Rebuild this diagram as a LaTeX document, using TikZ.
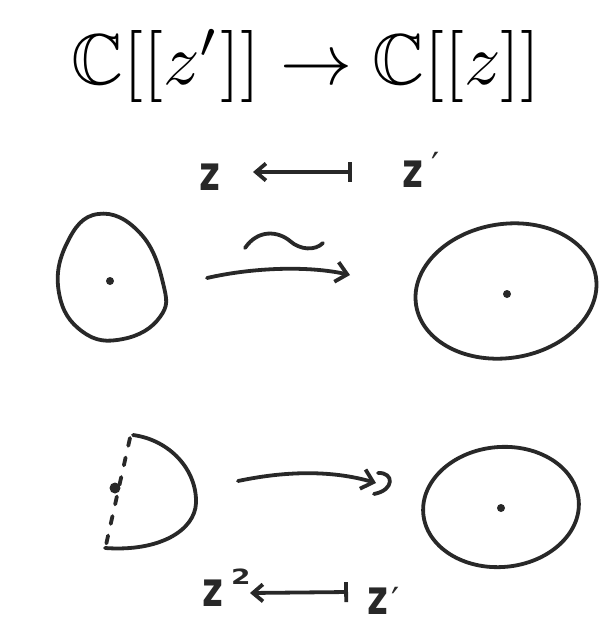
\documentclass[tikz,border=0pt]{standalone}
\usepackage{amssymb}
\usepackage{fontspec}
\newfontfamily\hand{DejaVu Sans}
\usetikzlibrary{arrows.meta}
\definecolor{inkc}{RGB}{40,40,40}
\tikzset{
  ink/.style={draw=inkc, line width=3.8pt, line cap=round, line join=round},
  lbl/.style={font=\hand\bfseries\fontsize{36}{36}\selectfont, text=inkc, inner sep=0pt, anchor=base west},
  dotmark/.style={fill=inkc, draw=none},
  barb/.style={-{Straight Barb[length=11pt,width=20pt,line width=3.8pt]}},
  mapsfrom/.style={{Bar[width=20pt,line width=3.8pt]}-{Straight Barb[length=10pt,width=17pt,line width=3.8pt]}}
}
\newcommand{\hz}{\scalebox{1}[1.35]{z}}
\begin{document}
\begin{tikzpicture}[x=1pt,y=-1pt]
\useasboundingbox[fill=white] (0,0) rectangle (599,625);
% title
\node[anchor=base, inner sep=0pt] (title) at (306,84) {\scalebox{7.2}{$\mathbb{C}[[z']]\to\mathbb{C}[[z]]$}};

% top labels
\node[lbl] (z1) at (199,190) {\hz};
\node[lbl] (zp1) at (402,187) {\hz\kern8pt\raisebox{9pt}{\mdseries′}};
\coordinate (b1) at (352,172);
\coordinate (h1) at (253,172);
\draw[ink, mapsfrom] (b1) -- (h1);

% left egg
\draw[ink] plot[smooth cycle, tension=0.75] coordinates {(98,214) (140,233) (163,283) (160,317) (123,339) (83,332) (59,293) (67,243)};
\fill[dotmark] (110,281) circle (4pt);

% right ellipse
\draw[ink, rotate around={9:(506,291)}] (506,291) ellipse [x radius=91pt, y radius=67pt];
\fill[dotmark] (507,294) circle (4pt);

% iso arrow
\coordinate (a1s) at (207,278);
\coordinate (a1e) at (350,275);
\draw[ink, barb] (a1s) .. controls (255,267) and (310,266) .. (a1e);
\draw[ink] (245,248) .. controls (258,229) and (278,231) .. (290,241) .. controls (300,250) and (315,251) .. (323,243);

% half disc
\draw[ink] (133,435) .. controls (170,440) and (197,470) .. (196,503) .. controls (195,530) and (160,552) .. (105,548);
\draw[ink, dash pattern=on 8pt off 12pt] (130,438) -- (106,545);
\fill[dotmark] (115,488) circle (5.5pt);

% right bottom circle
\draw[ink, rotate around={5:(501,507)}] (501,507) ellipse [x radius=78pt, y radius=60pt];
\fill[dotmark] (501,508) circle (4pt);

% bottom arrow
\coordinate (a2s) at (238,481);
\coordinate (a2e) at (376,483);
\draw[ink, barb] (a2s) .. controls (290,470) and (335,471) .. (a2e);
\draw[ink] (378,473) .. controls (394,472) and (395,490) .. (374,494);

% bottom labels
\node[lbl] (z2) at (202,606) {\hz\kern8pt\raisebox{22pt}{\fontsize{28}{28}\selectfont\scalebox{1}[0.75]{2}}};
\node[lbl] (zp2) at (367,614) {\hz\kern3pt\raisebox{1pt}{\mdseries′}};
\coordinate (b2) at (348,592);
\coordinate (h2) at (250,593);
\draw[ink, mapsfrom] (b2) -- (h2);
\end{tikzpicture}
\end{document}
